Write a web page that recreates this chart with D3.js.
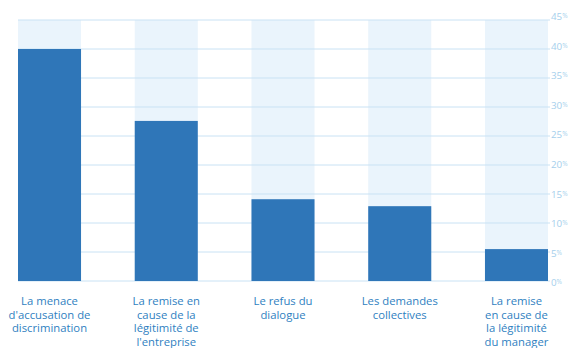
<!DOCTYPE html>
<html>
<head>
<meta charset="utf-8">
<script src="https://cdn.jsdelivr.net/npm/d3@7"></script>
<style>
  html, body { margin: 0; padding: 0; background: #ffffff; }
  svg { display: block; }
</style>
</head>
<body>
<svg id="chart" width="576" height="348"></svg>
<script>
// Motifs de tension, part des répondants (%)
const categories = [
  ["La menace", "d'accusation de", "discrimination"],
  ["La remise en", "cause de la", "légitimité de", "l'entreprise"],
  ["Le refus du", "dialogue"],
  ["Les demandes", "collectives"],
  ["La remise", "en cause de", "la légitimité", "du manager"]
];
const values = [40, 27.6, 14.1, 12.9, 5.5];
const tickValues = [0, 5, 10, 15, 20, 25, 30, 35, 40, 45];

const svg = d3.select("#chart");
const plotLeft = 18, plotRight = 548, plotTop = 20, plotBottom = 281;

const x = d3.scaleBand()
  .domain(d3.range(categories.length))
  .range([plotLeft, plotRight])
  .paddingInner(0.46)
  .paddingOuter(0);

const y = d3.scaleLinear().domain([0, 45]).range([plotBottom, plotTop]);
// tick labels sit on a slightly wider ladder than the gridlines
const yLabel = d3.scaleLinear().domain([0, 45]).range([plotBottom + 1.5, plotTop - 4]);

// pale column behind every bar
svg.append("g").selectAll("rect")
  .data(values)
  .join("rect")
  .attr("x", (d, i) => x(i))
  .attr("y", y(45))
  .attr("width", x.bandwidth())
  .attr("height", y(0) - y(45))
  .attr("fill", "#eaf4fc");

// horizontal gridlines
svg.append("g").selectAll("line")
  .data(tickValues)
  .join("line")
  .attr("x1", plotLeft)
  .attr("x2", plotRight + 2)
  .attr("y1", d => y(d))
  .attr("y2", d => y(d))
  .attr("stroke", "#c9e2f4")
  .attr("stroke-width", 1);

// bars
svg.append("g").selectAll("rect")
  .data(values)
  .join("rect")
  .attr("x", (d, i) => x(i))
  .attr("y", d => y(d))
  .attr("width", x.bandwidth())
  .attr("height", d => y(0) - y(d))
  .attr("fill", "#2f76b8");

// right-hand percentage axis
const axis = d3.axisRight(yLabel).tickValues(tickValues).tickSize(0).tickPadding(0).tickFormat(d => d);
const ag = svg.append("g").attr("transform", `translate(${plotRight + 3},0)`).call(axis);
ag.select(".domain").remove();
ag.selectAll("text")
  .attr("fill", "#a6cfec")
  .attr("font-family", "Open Sans, sans-serif")
  .attr("font-size", 9.8)
  .attr("dy", "0.35em")
  .each(function(d) {
    const t = d3.select(this);
    t.text(d);
    t.append("tspan").attr("font-size", 6.5).attr("dy", "-0.3em").text("%");
  });

// category labels
const lab = svg.append("g").selectAll("text")
  .data(categories)
  .join("text")
  .attr("x", (d, i) => x(i) + x.bandwidth() / 2)
  .attr("y", 305)
  .attr("text-anchor", "middle")
  .attr("fill", "#2f7fc1")
  .attr("font-family", "Open Sans, sans-serif")
  .attr("font-size", 11.3);
lab.selectAll("tspan")
  .data(d => d)
  .join("tspan")
  .attr("x", function() { return d3.select(this.parentNode).attr("x"); })
  .attr("dy", (d, i) => i === 0 ? 0 : 13.6)
  .text(d => d);
</script>
</body>
</html>
